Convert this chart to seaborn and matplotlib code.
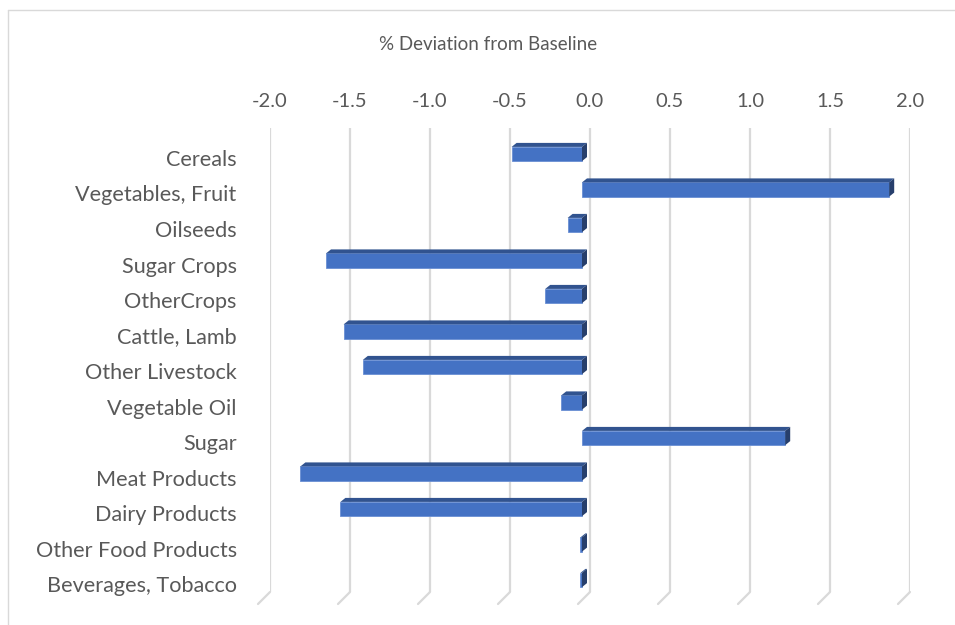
import matplotlib
matplotlib.use("Agg")
import matplotlib.pyplot as plt
from matplotlib.transforms import ScaledTranslation, IdentityTransform
from matplotlib.patches import Polygon
from matplotlib.lines import Line2D
import seaborn as sns
import pandas as pd

categories = ["Cereals", "Vegetables, Fruit", "Oilseeds", "Sugar Crops", "OtherCrops",
              "Cattle, Lamb", "Other Livestock", "Vegetable Oil", "Sugar", "Meat Products",
              "Dairy Products", "Other Food Products", "Beverages, Tobacco"]
values = [-0.44, 1.92, -0.09, -1.60, -0.23, -1.49, -1.37, -0.13, 1.27, -1.76, -1.51, -0.01, -0.01]
ticks = [-2.0, -1.5, -1.0, -0.5, 0.0, 0.5, 1.0, 1.5, 2.0]
axis_title = "% Deviation from Baseline"

W, H, DPI = 955, 625, 100
FRONT = "#4472C4"
TOP = "#31538F"
SIDE = "#273F6C"
GRID = "#D9D9D9"
TEXT = "#595959"

sns.set_theme(style="white")
plt.rcParams["font.family"] = ["Lato", "DejaVu Sans"]

df = pd.DataFrame({"category": categories, "value": values})

fig = plt.figure(figsize=(W / DPI, H / DPI), dpi=DPI)
fig.patch.set_facecolor("white")

# plot area in pixels (back plane)
left_px, right_px, top_px, bot_px = 270, 910, 128, 592
ax = fig.add_axes([left_px / W, 1 - bot_px / H, (right_px - left_px) / W, (bot_px - top_px) / H])
ax.set_facecolor("none")

sns.barplot(data=df, x="value", y="category", orient="h", color=FRONT,
            width=0.4, saturation=1, ax=ax, zorder=3)

ax.set_xlim(-2.0, 2.0)
ax.set_ylim(12.225, -0.845)
ax.set_xticks(ticks)
ax.set_xticklabels([f"{t:.1f}" for t in ticks])
ax.xaxis.tick_top()
ax.tick_params(axis="x", length=0, pad=13, labelsize=14.5, colors=TEXT)
ax.tick_params(axis="y", length=0, pad=24, labelsize=15.6, colors=TEXT)
ax.set_xlabel("")
ax.set_ylabel("")
for s in ax.spines.values():
    s.set_visible(False)
ax.grid(False)
for t in ticks:
    ax.axvline(t, color=GRID, lw=1.6, zorder=1)

fig.text(488 / W, 1 - 45 / H, axis_title, ha="center", va="center",
         fontsize=13.5, color=TEXT)

# 3D bar faces: front face pushed forward, top and side faces back to depth
fig.canvas.draw()
shift = ScaledTranslation(-8 / DPI, 4 / DPI, fig.dpi_scale_trans)
dx, dy = 5, 4
for p in ax.patches:
    p.set_transform(ax.transData + shift)
    p.set_edgecolor("#6A8FD3")
    p.set_linewidth(0.6)
    x0, x1 = sorted([p.get_x(), p.get_x() + p.get_width()])
    yA, yB = p.get_y(), p.get_y() + p.get_height()
    (X0, Ya), (X1, Yb) = (ax.transData + shift).transform([(x0, yA), (x1, yB)])
    ylo, yhi = min(Ya, Yb), max(Ya, Yb)
    top = Polygon([(X0, yhi), (X1, yhi), (X1 + dx, yhi + dy), (X0 + dx, yhi + dy)],
                  closed=True, facecolor=TOP, edgecolor="none",
                  transform=IdentityTransform(), zorder=4)
    side = Polygon([(X1, ylo), (X1, yhi), (X1 + dx, yhi + dy), (X1 + dx, ylo + dy)],
                   closed=True, facecolor=SIDE, edgecolor="none",
                   transform=IdentityTransform(), zorder=4)
    fig.add_artist(top)
    fig.add_artist(side)

# floor stubs at the foot of each gridline
for t in ticks:
    X, Y = ax.transData.transform((t, 12.225))
    fig.add_artist(Line2D([X, X - 12], [Y, Y - 12], color=GRID, lw=1.6,
                          transform=IdentityTransform()))

# chart frame
fig.add_artist(Line2D([8, 8], [0, H - 10], color=GRID, lw=1.0, transform=IdentityTransform()))
fig.add_artist(Line2D([8, W], [H - 10, H - 10], color=GRID, lw=1.0, transform=IdentityTransform()))

fig.savefig("out.png", dpi=DPI, facecolor="white")
